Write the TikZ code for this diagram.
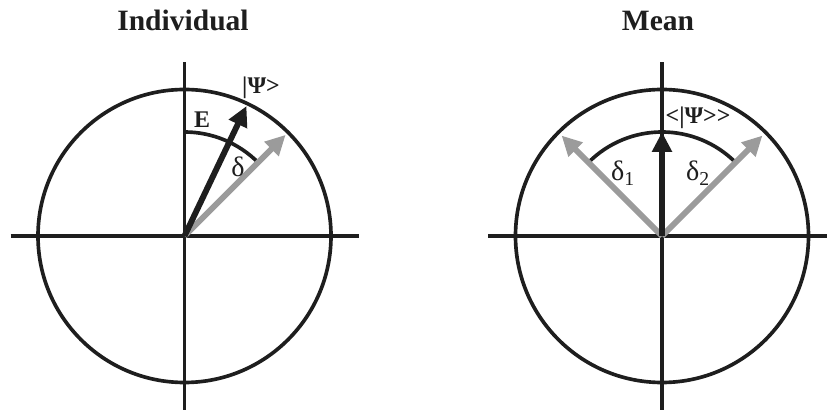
\documentclass[tikz,border=0pt]{standalone}
\usepackage{fontspec}
\setmainfont{Liberation Serif}
\usepackage{tikz}
\usetikzlibrary{positioning,arrows.meta,calc}
\definecolor{inkcol}{RGB}{30,30,30}
\definecolor{greycol}{RGB}{155,155,155}

\begin{document}
\begin{tikzpicture}[
  x=0.025cm, y=0.025cm,
  axis/.style={draw=inkcol, line width=2.2pt},
  ring/.style={draw=inkcol, line width=2.6pt},
  blackvec/.style={-{Triangle[length=5mm,width=4.8mm]}, inkcol, line width=4.2pt},
  greyvec/.style={-{Triangle[length=5mm,width=4.8mm]}, greycol, line width=4.2pt},
  ttl/.style={font=\fontsize{21}{24}\selectfont\bfseries, anchor=base, text=inkcol},
  lbl/.style={font=\fontsize{17}{19}\selectfont, text=inkcol, inner sep=0pt},
  dlbl/.style={font=\fontsize{20}{22}\selectfont, text=inkcol, inner sep=0pt},
]
\useasboundingbox (0,0) rectangle (827,412);
\def\R{146.5} \def\A{174} \def\r{104}
% ---- left: individual ----
\coordinate (oa) at (184.5,176);
\node[ttl] (ta) at (183,381) {Individual};
\draw[axis] ($(oa)+(-\A,0)$) -- ($(oa)+(\A,0)$);
\draw[axis] ($(oa)+(0,-\A)$) -- ($(oa)+(0,\A)$);
\draw[ring] (oa) circle (\R);
\draw[ring] ($(oa)+(90:\r)$) arc (90:45:\r);
\coordinate (psia) at ($(oa)+(64.5:144)$);
\coordinate (gra) at ($(oa)+(45:143)$);
\draw[greyvec] (oa) -- (gra);
\draw[blackvec] (oa) -- (psia);
\node[lbl, font=\fontsize{17}{19}\selectfont\bfseries] (ea) at (202,292) {E};
\node[dlbl] (da) at (238,245) {δ};
\node[lbl, font=\fontsize{17}{19}\selectfont\bfseries] (ka) at (261,324) {|Ψ>};
% ---- right: mean ----
\coordinate (ob) at (662,176);
\node[ttl] (tb) at (658,381) {Mean};
\draw[axis] ($(ob)+(-\A,0)$) -- ($(ob)+(\A,0)$);
\draw[axis] ($(ob)+(0,-\A)$) -- ($(ob)+(0,\A)$);
\draw[ring] (ob) circle (\R);
\draw[ring] ($(ob)+(45:\r)$) arc (45:135:\r);
\coordinate (g1) at ($(ob)+(135:142)$);
\coordinate (g2) at ($(ob)+(45:142)$);
\coordinate (mb) at ($(ob)+(90:\r)$);
\draw[greyvec] (ob) -- (g1);
\draw[greyvec] (ob) -- (g2);
\draw[blackvec] (ob) -- (mb);
\node[dlbl] (d1) at (623,239) {δ\textsubscript{1}};
\node[dlbl] (d2) at (698,239) {δ\textsubscript{2}};
\node[lbl, font=\fontsize{17}{19}\selectfont\bfseries] (kb) at (698,294) {<|Ψ>{}>};
\end{tikzpicture}
\end{document}
